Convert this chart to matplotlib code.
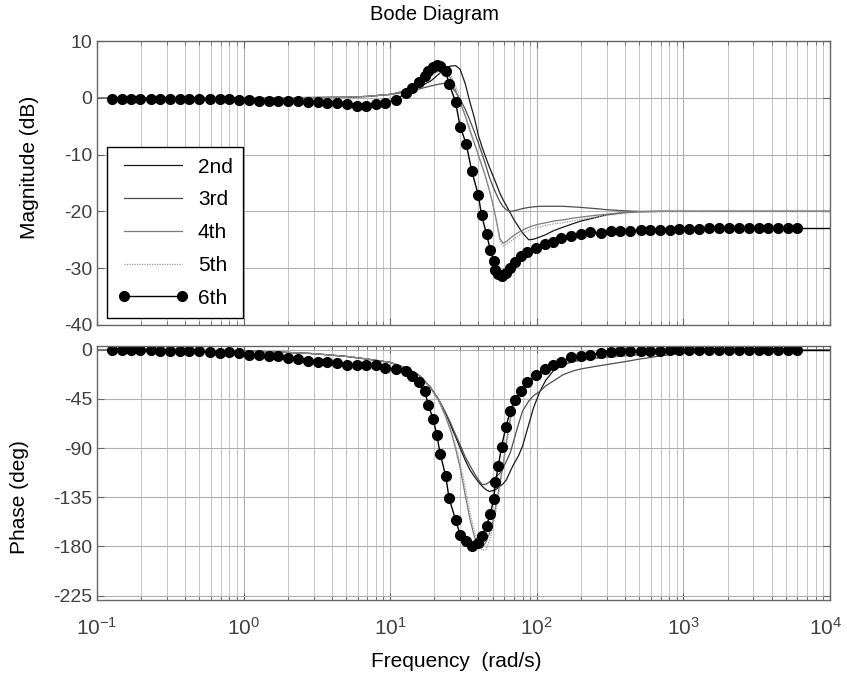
import numpy as np
import matplotlib.pyplot as plt
import matplotlib.transforms as mtransforms
from matplotlib.ticker import NullFormatter, LogLocator

plt.rcParams['font.family'] = ['Liberation Sans', 'DejaVu Sans']
plt.rcParams['mathtext.default'] = 'regular'
plt.rcParams['axes.unicode_minus'] = False

# frequency grid (rad/s) read for the 2nd..5th order curves
w = [0.1, 0.3, 1, 2, 3, 5, 7, 10, 13, 16,
     19, 21.5, 24, 26, 28, 30, 32.5, 35, 37.5, 40,
     42.5, 45, 47.5, 50, 53, 56, 59, 62, 66, 70,
     75, 80, 88, 95, 105, 115, 130, 150, 175, 200,
     250, 300, 400, 500, 700, 1000, 2000, 5000, 10000]

# magnitude (dB)
mag2 = [0, 0, 0, 0.02, 0.05, 0.1, 0.25, 0.6, 1.2, 2.0,
        3.0, 4.2, 5.35, 5.6, 5.65, 5.0, 2.5, -0.8, -3.5, -6.7,
        -8.8, -10.6, -12.2, -13.6, -15.2, -16.8, -18.0, -19.0, -20.3, -21.5,
        -22.7, -23.8, -25.0, -24.9, -24.5, -24.1, -23.4, -22.8, -22.2, -21.7,
        -21.1, -20.6, -20.2, -20.05, -20.0, -20.0, -20.0, -20.0, -20.0]
mag3 = [0, 0, 0, 0.02, 0.05, 0.1, 0.25, 0.6, 1.0, 1.6,
        2.1, 2.4, 2.6, 2.0, 1.0, -0.3, -2.0, -4.0, -6.0, -8.0,
        -10.0, -12.0, -14.0, -15.5, -17.0, -18.3, -19.2, -19.7, -20.0, -19.9,
        -19.7, -19.5, -19.3, -19.2, -19.1, -19.1, -19.1, -19.1, -19.2, -19.3,
        -19.5, -19.7, -19.9, -20.0, -20.0, -20.0, -20.0, -20.0, -20.0]
mag4 = [0, 0, 0, 0.02, 0.05, 0.1, 0.25, 0.6, 1.3, 2.7,
        4.0, 5.0, 4.5, 3.3, 1.2, -0.8, -3.2, -5.8, -8.0, -10.2,
        -12.2, -14.2, -16.3, -18.6, -21.6, -24.8, -25.6, -25.3, -24.7, -24.2,
        -23.7, -23.3, -22.8, -22.5, -22.2, -22.0, -21.7, -21.5, -21.2, -21.0,
        -20.7, -20.5, -20.15, -20.05, -20.0, -20.0, -20.0, -20.0, -20.0]
mag5 = [0, 0, 0, 0.02, 0.05, 0.1, 0.25, 0.6, 1.3, 2.6,
        3.9, 4.6, 4.8, 3.9, 2.0, 0.0, -2.9, -5.5, -7.8, -10.0,
        -12.0, -14.0, -16.2, -18.6, -21.8, -25.2, -26.1, -25.8, -25.3, -24.8,
        -24.3, -23.9, -23.4, -23.0, -22.7, -22.5, -22.2, -22.0, -21.7, -21.4,
        -21.0, -20.7, -20.3, -20.1, -20.0, -20.0, -20.0, -20.0, -20.0]

# phase (deg)
ph2 = [0, -0.3, -1.0, -2.4, -3.5, -6.0, -8.5, -11.5, -17.0, -24.0,
       -35.0, -46.0, -59.0, -70.0, -80.0, -90.0, -101.0, -110.0, -116.0, -121.0,
       -125.0, -128.0, -129.6, -129.0, -127.5, -125.0, -122.5, -119.0, -111.0, -104.0,
       -97.0, -88.0, -68.6, -53.0, -38.0, -28.0, -19.0, -14.0, -11.0, -9.0,
       -7.6, -6.6, -5.2, -4.3, -3.3, -2.3, -1.2, -0.5, -0.3]
ph3 = [0, -0.3, -1.0, -2.4, -3.5, -6.0, -8.5, -11.5, -17.0, -24.0,
       -35.0, -46.0, -58.0, -68.0, -78.0, -87.0, -98.0, -106.0, -113.0, -119.0,
       -123.5, -123.0, -121.0, -118.5, -116.0, -113.0, -108.0, -102.0, -94.0, -82.0,
       -68.0, -56.0, -47.0, -42.0, -38.0, -33.0, -28.5, -23.0, -19.5, -17.5,
       -15.2, -13.5, -10.8, -8.5, -5.5, -3.0, -1.2, -0.5, -0.3]
ph4 = [0, -0.3, -1.0, -2.4, -3.5, -6.0, -8.5, -11.5, -17.0, -24.0,
       -35.5, -47.0, -62.0, -75.0, -91.0, -108.0, -133.0, -155.0, -171.0, -179.5,
       -181.0, -176.0, -168.0, -158.0, -140.0, -122.0, -104.0, -84.0, -62.0, -49.0,
       -41.0, -37.0, -31.5, -27.0, -22.0, -18.5, -15.5, -13.2, -11.0, -9.5,
       -8.0, -7.0, -5.5, -4.6, -3.6, -2.5, -1.2, -0.5, -0.3]
ph5 = [0, -0.3, -1.0, -2.4, -3.5, -6.0, -8.5, -11.5, -17.0, -24.0,
       -35.0, -46.0, -61.0, -73.0, -88.0, -104.0, -126.0, -149.0, -166.0, -177.0,
       -183.5, -183.0, -175.0, -163.0, -146.0, -126.0, -106.0, -88.0, -66.0, -51.0,
       -42.0, -36.5, -31.0, -26.5, -22.0, -18.5, -15.5, -13.2, -11.0, -9.5,
       -8.0, -7.0, -5.5, -4.6, -3.6, -2.5, -1.2, -0.5, -0.3]

# 6th order: dotted points (last value only continues the line to the edge)
w6 = [0.126, 0.147, 0.170, 0.198, 0.232, 0.268, 0.314, 0.367, 0.424, 0.497,
      0.587, 0.687, 0.794, 0.929, 1.086, 1.27, 1.486, 1.72, 2.01, 2.36,
      2.74, 3.20, 3.71, 4.31, 5.04, 5.90, 6.84, 8.00, 9.25, 10.9,
      12.8, 14.1, 15.6, 17.2, 18.2, 19.6, 20.8, 21.9, 23.9, 25.2,
      27.9, 30.0, 33.0, 36.0, 39.9, 42.0, 45.4, 48.2, 50.8, 52.2,
      54.7, 57.5, 61.5, 65.8, 70.6, 78.6, 86.0, 98.7, 113, 129,
      147, 171, 201, 231, 272, 320, 368, 435, 510, 591,
      694, 810, 940, 1094, 1280, 1503, 1758, 2055, 2393, 2799,
      3254, 3786, 4427, 5176, 5970, 10000]
mag6 = [-0.2, -0.2, -0.2, -0.2, -0.2, -0.2, -0.2, -0.2, -0.2, -0.2,
        -0.25, -0.25, -0.25, -0.3, -0.45, -0.5, -0.5, -0.55, -0.6, -0.65,
        -0.8, -0.8, -0.85, -1.0, -1.1, -1.4, -1.4, -1.1, -1.0, -0.3,
        0.8, 1.65, 2.8, 3.8, 4.8, 5.5, 5.8, 5.65, 4.65, 2.5,
        -0.7, -5.1, -8.1, -12.9, -17.1, -20.7, -24.0, -26.8, -28.8, -30.4,
        -31.0, -31.3, -30.9, -30.0, -28.9, -27.9, -27.1, -26.5, -25.8, -25.3,
        -24.6, -24.3, -24.0, -23.7, -23.8, -23.5, -23.5, -23.4, -23.3, -23.2,
        -23.2, -23.2, -23.1, -23.1, -23.1, -23.0, -23.0, -23.0, -23.0, -23.0,
        -23.0, -23.0, -23.0, -23.0, -23.0, -23.0]
ph6 = [-0.3, -0.3, -0.4, -0.5, -0.6, -1.0, -1.0, -1.3, -1.2, -1.5,
       -1.8, -2.5, -2.3, -3.0, -4.5, -4.6, -5.2, -6.1, -7.6, -8.2,
       -9.8, -10.7, -11.0, -12.5, -14.3, -14.3, -13.8, -14.3, -16.8, -17.7,
       -19.8, -23.8, -29.9, -38.1, -50.3, -63.4, -77.8, -95.2, -115.3, -135.7,
       -155.5, -169.3, -175.4, -179.4, -176.9, -170.8, -161.0, -150.0, -136.6, -121.4,
       -106.0, -88.5, -70.8, -56.4, -45.7, -37.5, -29.9, -22.9, -17.4, -13.7,
       -10.7, -7.0, -5.5, -4.6, -3.0, -2.4, -1.5, -0.9, -0.9, -0.9,
       -0.9, -0.5, -0.5, -0.5, -0.4, -0.4, -0.3, -0.3, -0.3, -0.2,
       -0.2, -0.2, -0.2, -0.2, -0.2, -0.2]

labels = ['2nd', '3rd', '4th', '5th', '6th']
colors = ['#1a1a1a', '#4d4d4d', '#7a7a7a', '#9a9a9a']
styles = ['-', '-', '-', (0, (1, 1))]

fig = plt.figure(figsize=(8.47, 6.82), dpi=100)
ax1 = fig.add_axes([97/847, 1 - 325/682, 733/847, 284/682])
ax2 = fig.add_axes([97/847, 1 - 600/682, 733/847, 254/682])

mags = [mag2, mag3, mag4, mag5]
phs = [ph2, ph3, ph4, ph5]
for i in range(4):
    ax1.plot(w, mags[i], color=colors[i], ls=styles[i], lw=0.9, label=labels[i])
    ax2.plot(w, phs[i], color=colors[i], ls=styles[i], lw=0.9)

ax1.plot(w6[:-1], mag6[:-1], '-o', color='k', lw=1, ms=7, label=labels[4])
ax1.plot(w6[-2:], mag6[-2:], '-', color='k', lw=1)
ax2.plot(w6[:-1], ph6[:-1], '-o', color='k', lw=1, ms=7)
ax2.plot(w6[-2:], ph6[-2:], '-', color='k', lw=1)

for ax in [ax1, ax2]:
    ax.set_xscale('log')
    ax.set_xlim(0.1, 1e4)
    ax.xaxis.set_minor_locator(LogLocator(base=10, subs=np.arange(2, 10), numticks=20))
    ax.xaxis.set_minor_formatter(NullFormatter())
    ax.grid(True, which='major', axis='both', color='#b0b0b0', lw=0.8)
    ax.grid(True, which='minor', axis='x', color='#c4c4c4', lw=0.7)
    ax.set_axisbelow(True)
    ax.tick_params(which='both', direction='in', top=True, right=True,
                   color='#666666', labelcolor='#404040', labelsize=14)
    ax.tick_params(which='major', length=5)
    ax.tick_params(which='minor', length=3)
    for s in ax.spines.values():
        s.set_color('#666666')
        s.set_linewidth(1)

ax1.set_ylim(-40, 10)
ax1.set_yticks([-40, -30, -20, -10, 0, 10])
ax1.tick_params(labelbottom=False)
ax2.set_ylim(-229, 3.5)
ax2.set_yticks([-225, -180, -135, -90, -45, 0])
ax2.set_xticks([0.1, 1, 10, 100, 1000, 10000])
ax2.set_xticklabels(['$10^{-1}$', '$10^{0}$', '$10^{1}$', '$10^{2}$', '$10^{3}$', '$10^{4}$'])
ax2.tick_params(axis='x', pad=12, labelsize=15)
# keep the last decade label inside the figure
last = ax2.get_xticklabels()[-1]
last.set_transform(last.get_transform() + mtransforms.ScaledTranslation(-4/100, 0, fig.dpi_scale_trans))

ax1.set_ylabel('Magnitude (dB)', fontsize=15)
ax1.yaxis.set_label_coords(-0.079, 0.556)
ax2.set_ylabel('Phase (deg)', fontsize=15)
ax2.yaxis.set_label_coords(-0.093, 0.406)
ax2.set_xlabel('Frequency  (rad/s)', fontsize=15)
ax2.xaxis.set_label_coords(0.49, -0.205)
fig.text(434/847, 1 - 14/682, 'Bode Diagram', ha='center', va='center', fontsize=14.5)

leg = ax1.legend(loc='upper left', bbox_to_anchor=(0.014, 0.626), fontsize=15,
                 frameon=True, fancybox=False, framealpha=1, edgecolor='black',
                 handlelength=3.4, numpoints=2, labelspacing=0.66,
                 borderpad=0.5, handletextpad=0.45, borderaxespad=0)
leg.get_frame().set_linewidth(1.0)

fig.savefig('out.png', dpi=100)
